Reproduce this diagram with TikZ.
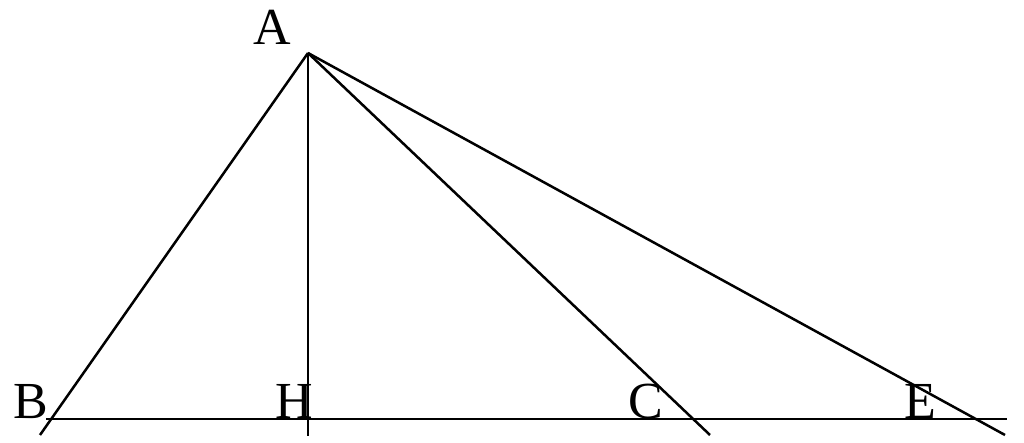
\documentclass[tikz,border=0pt]{standalone}
\usepackage{fontspec}
\setmainfont{Liberation Serif}
\begin{document}
\begin{tikzpicture}[x=0.5pt,y=-0.5pt,
  geo/.style={line width=1.25pt, black},
  lbl/.style={inner sep=0pt, anchor=base, font=\fontsize{26}{26}\selectfont}]
\useasboundingbox (0,0) rectangle (1024,443);
\coordinate (A) at (308,53);
\coordinate (B) at (50,419);
\coordinate (H) at (308,419);
\coordinate (C) at (693,419);
\coordinate (E) at (980,419);
\coordinate (L) at (46,419);
\coordinate (R) at (1007,419);
\coordinate (Bx) at (40,435);
\coordinate (Hx) at (308,436);
\coordinate (Cx) at (710,435);
\coordinate (Ex) at (1005,435);
\draw[geo] (L) -- (R);
\draw[geo] (A) -- (Bx);
\draw[geo] (A) -- (Hx);
\draw[geo] (A) -- (Cx);
\draw[geo] (A) -- (Ex);
\node[lbl] (lA) at (272,45) {A};
\node[lbl] (lB) at (31,419) {B};
\node[lbl] (lH) at (294,419) {H};
\node[lbl] (lC) at (646,419) {C};
\node[lbl] (lE) at (920,419) {E};
\end{tikzpicture}
\end{document}
